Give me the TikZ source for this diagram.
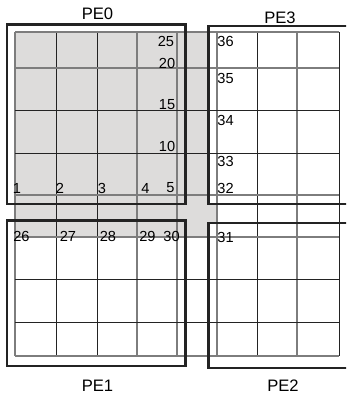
\documentclass[tikz,border=0pt]{standalone}
\usepackage{fontspec}
\setmainfont{Liberation Sans}
\definecolor{halogray}{RGB}{221,220,219}
\definecolor{lightln}{RGB}{125,125,125}
\definecolor{darkln}{RGB}{35,35,35}
\begin{document}
\begin{tikzpicture}[x=1pt,y=-1pt,
  gridlight/.style={draw=lightln,line width=1.2pt},
  griddark/.style={draw=darkln,line width=1pt},
  pebox/.style={draw=darkln,line width=2.6pt},
  num/.style={inner sep=0pt,font=\fontsize{14.6}{16}\selectfont},
  pelabel/.style={inner sep=0pt,font=\fontsize{16.6}{18}\selectfont}]
\useasboundingbox (0,0) rectangle (346,396);
\clip (0,0) rectangle (346,396);
% shaded region
\fill[fill=halogray] (15,32) rectangle (217,237);
% white-filled PE3 and PE2 areas
\fill[fill=white] (208.5,26) rectangle (352,204);
\fill[fill=white] (208.5,223) rectangle (352,368);
% grid lines
\foreach \x in {15,137,177,217,297} \draw[gridlight] (\x,32) -- (\x,356);
\foreach \x in {56,97,257,339} \draw[griddark] (\x,32) -- (\x,356);
\foreach \y in {32,68,195,237,356} \draw[gridlight] (15,\y) -- (339,\y);
\foreach \y in {110,153,279,322} \draw[griddark] (15,\y) -- (339,\y);
% PE boxes
\draw[pebox] (7,24.5) rectangle (185.5,204);
\draw[pebox] (7,220.5) rectangle (185.5,366);
\draw[pebox] (208.5,26) rectangle (352,204);
\draw[pebox] (208.5,223) rectangle (352,368);
% PE labels
\node[pelabel] (pe0) at (97.5,13.5) {PE0};
\node[pelabel] (pe3) at (280,18) {PE3};
\node[pelabel] (pe1) at (97.5,386) {PE1};
\node[pelabel] (pe2) at (283,385.5) {PE2};
% numbers PE0
\node[num] (n25) at (166,41.5) {25};
\node[num] (n20) at (167,63) {20};
\node[num] (n15) at (167,104.5) {15};
\node[num] (n10) at (167,146.5) {10};
\node[num] (n5) at (170.5,188) {5};
\node[num] (n1) at (17,188) {1};
\node[num] (n2) at (60,188) {2};
\node[num] (n3) at (102,188) {3};
\node[num] (n4) at (145.5,188) {4};
% numbers PE1
\node[num] (n26) at (21.5,236.5) {26};
\node[num] (n27) at (68,236.5) {27};
\node[num] (n28) at (108,236.5) {28};
\node[num] (n29) at (147.5,236.5) {29};
\node[num] (n30) at (171.5,236.5) {30};
% numbers PE3 / PE2
\node[num] (n36) at (225.5,41.5) {36};
\node[num] (n35) at (225.5,78) {35};
\node[num] (n34) at (225.5,120) {34};
\node[num] (n33) at (225.5,161.5) {33};
\node[num] (n32) at (225.5,188) {32};
\node[num] (n31) at (225.5,237) {31};
\end{tikzpicture}
\end{document}
